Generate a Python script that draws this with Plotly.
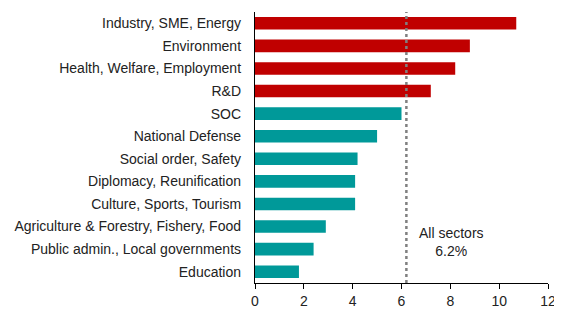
import plotly.graph_objects as go

categories = ["Industry, SME, Energy", "Environment", "Health, Welfare, Employment", "R&D",
              "SOC", "National Defense", "Social order, Safety", "Diplomacy, Reunification",
              "Culture, Sports, Tourism", "Agriculture & Forestry, Fishery, Food",
              "Public admin., Local governments", "Education"]
values = [10.7, 8.8, 8.2, 7.2, 6.0, 5.0, 4.2, 4.1, 4.1, 2.9, 2.4, 1.8]
highlight = [True, True, True, True] + [False] * 8
all_sectors = 6.2
x_ticks = [0, 2, 4, 6, 8, 10, 12]

RED = "#C00000"
TEAL = "#009999"
colors = [RED if h else TEAL for h in highlight]

fig = go.Figure(go.Bar(
    x=values, y=categories, orientation="h",
    marker=dict(color=colors, line=dict(width=0)),
    width=0.56,
))

fig.add_shape(type="line", x0=all_sectors, x1=all_sectors, xref="x", yref="paper", y0=0, y1=1.0,
              line=dict(color="#808080", width=2.5, dash="dot"))

fig.add_annotation(x=8.05, y=1.3, xref="x", yref="y", text="All sectors<br>6.2%",
                   showarrow=False, font=dict(size=14, color="#222"), align="center")
fig.add_annotation(x=9.1, y=-0.13, xref="x", yref="paper", text="% per annum",
                   showarrow=False, font=dict(size=14, color="#222"), yanchor="top")

# page body has an 8px margin, so the figure is sized to fit the 562x320 window
fig.update_layout(
    width=554, height=312,
    margin=dict(l=247, r=14, t=4, b=37, autoexpand=False),
    plot_bgcolor="white", paper_bgcolor="white",
    font=dict(family="Liberation Sans, Arial, sans-serif", size=14, color="#222"),
    showlegend=False,
    xaxis=dict(range=[0, 12], tickvals=x_ticks, showgrid=False, zeroline=False,
               showline=True, linecolor="black", linewidth=1.3,
               ticks="outside", ticklen=5, tickcolor="black", tickwidth=1,
               tickfont=dict(size=14), automargin=False),
    yaxis=dict(categoryorder="array", categoryarray=categories[::-1],
               showgrid=False, zeroline=False, showline=True, linecolor="black", linewidth=1.3,
               ticks="", ticklen=0, range=[-0.5, 11.5], ticklabelstandoff=10,
               automargin=False),
)

fig.write_html("out.html")
